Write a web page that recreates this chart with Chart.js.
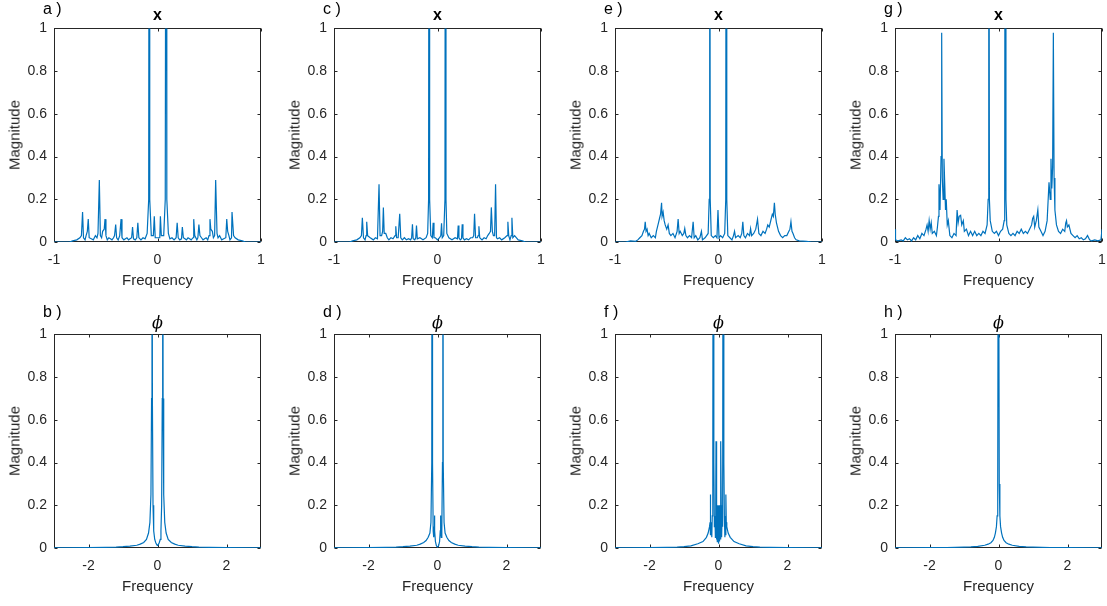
<!DOCTYPE html>
<html>
<head>
<meta charset="utf-8">
<script src="https://cdn.jsdelivr.net/npm/chart.js@4/dist/chart.umd.min.js"></script>
<style>
  html, body { margin: 0; padding: 0; background: #ffffff; }
  #fig { position: relative; width: 1107px; height: 606px; overflow: hidden; background: #fff;
         font-family: "Liberation Sans", Arial, Helvetica, sans-serif; color: #262626; }
  .cv { position: absolute; }
  .txt { position: absolute; white-space: nowrap; line-height: 1; }
  .lbl { font-size: 16px; color: #000; }
  .ttl { font-size: 16px; font-weight: bold; color: #000; transform: translateX(-50%); }
  .phi { font-size: 16px; font-style: italic; font-family: "DejaVu Serif", "Liberation Serif", serif; color: #000; transform: translateX(-50%); }
  .xl { font-size: 15px; transform: translateX(-50%); }
  .yl { font-size: 15px; transform: translate(-50%, -50%) rotate(-90deg); }
</style>
</head>
<body>
<div id="fig"></div>
<script>
// ---------- data ----------
const topXTicks = [-1, 0, 1];
const bottomXTicks = [-2, 0, 2];
const yTicks = [0, 0.2, 0.4, 0.6, 0.8, 1];

// panel a) x
const aFreq = [-1,-0.85,-0.82,-0.78,-0.75,-0.735,-0.724,-0.715,-0.7,-0.69,-0.678,-0.669,-0.66,-0.64,-0.62,-0.6,-0.585,-0.575,-0.562,-0.552,-0.54,-0.53,-0.515,-0.507,-0.498,-0.485,-0.47,-0.455,-0.44,-0.425,-0.415,-0.404,-0.395,-0.38,-0.365,-0.352,-0.343,-0.325,-0.31,-0.295,-0.28,-0.265,-0.25,-0.241,-0.232,-0.215,-0.2,-0.19,-0.18,-0.16,-0.14,-0.12,-0.1,-0.085,-0.08,-0.075,-0.06,-0.04,-0.031,-0.022,-0.005,
  0.005,0.022,0.028,0.037,0.06,0.075,0.083,0.09,0.105,0.12,0.14,0.16,0.18,0.19,0.2,0.215,0.232,0.24,0.25,0.265,0.28,0.295,0.31,0.325,0.343,0.35,0.36,0.38,0.39,0.4,0.41,0.425,0.44,0.455,0.47,0.485,0.498,0.507,0.515,0.53,0.54,0.552,0.562,0.575,0.585,0.6,0.62,0.64,0.66,0.669,0.678,0.69,0.7,0.715,0.72,0.735,0.75,0.78,0.82,0.85,1];
const aMag = [0,0,0.005,0.01,0.02,0.03,0.14,0.02,0.01,0.03,0.05,0.107,0.02,0.015,0.01,0.03,0.02,0.04,0.29,0.03,0.02,0.05,0.06,0.107,0.03,0.01,0.02,0.015,0.01,0.02,0.03,0.082,0.02,0.01,0.03,0.107,0.02,0.01,0.015,0.02,0.01,0.015,0.02,0.07,0.015,0.01,0.02,0.09,0.02,0.01,0.02,0.015,0.04,0.2,3,0.2,0.03,0.03,0.12,0.02,0.02,
  0.02,0.02,0.12,0.03,0.03,0.2,3,0.2,0.04,0.015,0.02,0.01,0.02,0.09,0.02,0.01,0.015,0.07,0.02,0.015,0.01,0.02,0.015,0.01,0.02,0.107,0.03,0.01,0.02,0.082,0.03,0.02,0.01,0.015,0.02,0.01,0.03,0.107,0.06,0.05,0.02,0.03,0.29,0.04,0.02,0.03,0.01,0.015,0.02,0.107,0.05,0.03,0.01,0.02,0.14,0.03,0.02,0.01,0.005,0,0];

// panel c) x
const cFreq = [-1,-0.85,-0.82,-0.78,-0.75,-0.735,-0.726,-0.715,-0.7,-0.69,-0.684,-0.675,-0.65,-0.62,-0.6,-0.58,-0.565,-0.555,-0.54,-0.53,-0.523,-0.515,-0.5,-0.485,-0.47,-0.45,-0.43,-0.41,-0.403,-0.395,-0.38,-0.365,-0.355,-0.34,-0.32,-0.3,-0.28,-0.26,-0.25,-0.242,-0.235,-0.22,-0.21,-0.203,-0.195,-0.17,-0.14,-0.11,-0.095,-0.086,-0.081,-0.076,-0.065,-0.05,-0.042,-0.034,-0.02,0,
  0.02,0.032,0.039,0.046,0.06,0.072,0.077,0.082,0.09,0.11,0.14,0.17,0.193,0.2,0.207,0.22,0.232,0.239,0.246,0.26,0.28,0.3,0.32,0.34,0.35,0.358,0.368,0.385,0.393,0.4,0.408,0.43,0.45,0.47,0.485,0.5,0.512,0.52,0.53,0.54,0.552,0.561,0.57,0.58,0.6,0.62,0.65,0.672,0.68,0.688,0.7,0.712,0.719,0.728,0.745,0.78,0.82,0.85,1];
const cMag = [0,0,0.005,0.01,0.02,0.03,0.113,0.02,0.01,0.03,0.095,0.03,0.02,0.01,0.02,0.015,0.27,0.03,0.03,0.05,0.162,0.04,0.04,0.02,0.01,0.02,0.015,0.03,0.074,0.02,0.02,0.132,0.02,0.01,0.02,0.01,0.015,0.01,0.02,0.083,0.015,0.01,0.02,0.077,0.015,0.02,0.01,0.02,0.04,0.2,3,0.2,0.03,0.02,0.09,0.02,0.02,0.01,
  0.02,0.03,0.088,0.02,0.03,0.2,3,0.2,0.04,0.02,0.01,0.02,0.015,0.077,0.02,0.01,0.015,0.083,0.02,0.01,0.015,0.01,0.02,0.02,0.03,0.132,0.02,0.02,0.03,0.074,0.02,0.01,0.02,0.015,0.03,0.04,0.05,0.162,0.05,0.03,0.03,0.27,0.02,0.015,0.02,0.01,0.02,0.03,0.095,0.03,0.01,0.03,0.113,0.02,0.03,0.01,0.005,0,0];

// panel e) x
const eFreq = [-1,-0.9,-0.85,-0.8,-0.78,-0.76,-0.74,-0.725,-0.715,-0.708,-0.7,-0.69,-0.68,-0.67,-0.65,-0.63,-0.61,-0.6,-0.59,-0.58,-0.57,-0.56,-0.55,-0.545,-0.535,-0.525,-0.515,-0.5,-0.487,-0.475,-0.46,-0.44,-0.42,-0.4,-0.39,-0.38,-0.37,-0.35,-0.335,-0.326,-0.315,-0.3,-0.28,-0.26,-0.245,-0.235,-0.22,-0.2,-0.18,-0.165,-0.155,-0.13,-0.1,-0.09,-0.085,-0.08,-0.07,-0.05,-0.03,-0.015,-0.005,0.005,0.02,0.04,0.06,0.07,0.075,0.08,0.09,0.11,0.13,0.145,0.155,0.165,0.19,0.21,0.225,0.235,0.245,0.26,0.28,0.3,0.31,0.32,0.34,0.36,0.377,0.39,0.41,0.43,0.45,0.465,0.476,0.49,0.5,0.51,0.52,0.53,0.54,0.548,0.56,0.57,0.58,0.6,0.62,0.64,0.66,0.68,0.69,0.7,0.71,0.72,0.735,0.75,0.78,0.85,0.9,1];
const eMag = [0,0,0.005,0.003,0.01,0.02,0.03,0.05,0.06,0.095,0.05,0.06,0.03,0.04,0.02,0.03,0.02,0.05,0.07,0.09,0.11,0.13,0.184,0.12,0.14,0.1,0.08,0.06,0.08,0.04,0.03,0.04,0.02,0.05,0.107,0.04,0.05,0.03,0.04,0.063,0.03,0.02,0.03,0.02,0.095,0.02,0.03,0.01,0.02,0.05,0.01,0.02,0.04,0.2,3,0.2,0.03,0.02,0.03,0.02,0.15,0.02,0.03,0.02,0.04,0.2,3,0.2,0.03,0.02,0.01,0.03,0.05,0.02,0.03,0.02,0.04,0.095,0.03,0.02,0.04,0.03,0.063,0.03,0.04,0.06,0.107,0.04,0.03,0.05,0.04,0.06,0.08,0.07,0.09,0.11,0.13,0.12,0.184,0.13,0.09,0.07,0.05,0.03,0.02,0.03,0.03,0.05,0.06,0.095,0.05,0.04,0.02,0.01,0.005,0.003,0,0];

// panel g) x
const gFreq = [-1,-0.995,-0.97,-0.94,-0.92,-0.9,-0.88,-0.86,-0.84,-0.82,-0.8,-0.78,-0.76,-0.74,-0.72,-0.7,-0.69,-0.68,-0.67,-0.66,-0.65,-0.64,-0.62,-0.6,-0.59,-0.58,-0.575,-0.565,-0.555,-0.549,-0.543,-0.535,-0.527,-0.52,-0.512,-0.505,-0.495,-0.485,-0.47,-0.45,-0.43,-0.41,-0.4,-0.39,-0.38,-0.366,-0.355,-0.34,-0.33,-0.31,-0.29,-0.27,-0.25,-0.23,-0.21,-0.19,-0.17,-0.15,-0.13,-0.11,-0.1,-0.094,-0.088,-0.08,-0.06,-0.04,-0.02,0,0.02,0.04,0.055,0.06,0.065,0.072,0.08,0.1,0.12,0.14,0.16,0.18,0.2,0.22,0.24,0.26,0.28,0.3,0.32,0.33,0.34,0.35,0.365,0.38,0.39,0.41,0.43,0.45,0.47,0.48,0.488,0.5,0.507,0.515,0.523,0.53,0.537,0.545,0.56,0.58,0.6,0.62,0.64,0.65,0.657,0.665,0.68,0.7,0.72,0.74,0.76,0.78,0.8,0.82,0.84,0.86,0.88,0.9,0.93,0.96,0.99,1];
const gMag = [0.06,0.01,0.005,0.01,0.005,0.02,0.01,0.015,0.005,0.02,0.01,0.03,0.015,0.04,0.03,0.06,0.08,0.05,0.1,0.06,0.09,0.04,0.05,0.03,0.07,0.12,0.27,0.15,0.4,0.98,0.3,0.2,0.39,0.28,0.15,0.2,0.08,0.1,0.03,0.02,0.04,0.03,0.15,0.09,0.12,0.125,0.08,0.1,0.05,0.06,0.03,0.05,0.03,0.05,0.03,0.04,0.03,0.05,0.04,0.08,0.2,3,0.2,0.1,0.05,0.04,0.05,0.03,0.05,0.06,0.1,0.2,3,0.2,0.08,0.04,0.03,0.04,0.03,0.05,0.04,0.06,0.04,0.05,0.04,0.06,0.08,0.11,0.12,0.07,0.1,0.15,0.07,0.05,0.03,0.05,0.1,0.2,0.28,0.2,0.39,0.25,0.35,0.98,0.3,0.15,0.08,0.05,0.04,0.06,0.05,0.09,0.1,0.07,0.08,0.04,0.03,0.02,0.03,0.015,0.02,0.01,0.015,0.03,0.01,0.005,0.01,0.005,0.01,0.06];

// panel b) phi
const bFreq = [-3,-2,-1.5,-1.2,-1,-0.8,-0.6,-0.5,-0.4,-0.32,-0.26,-0.22,-0.19,-0.172,-0.16,-0.148,-0.13,-0.11,-0.08,-0.05,-0.02,0,0.02,0.05,0.08,0.1,0.12,0.138,0.15,0.162,0.18,0.21,0.25,0.31,0.4,0.5,0.6,0.8,1,1.2,1.5,2,3];
const bMag = [0.001,0.002,0.003,0.004,0.006,0.009,0.013,0.018,0.026,0.04,0.07,0.12,0.25,0.7,3,0.7,0.2,0.08,0.04,0.025,0.015,0.012,0.015,0.025,0.04,0.08,0.2,0.7,3,0.7,0.25,0.12,0.07,0.04,0.026,0.018,0.013,0.009,0.006,0.004,0.003,0.002,0.001];

// panel d) phi
const dFreq = [-3,-2,-1.5,-1.2,-1,-0.8,-0.6,-0.5,-0.4,-0.33,-0.27,-0.22,-0.19,-0.166,-0.155,-0.144,-0.125,-0.11,-0.095,-0.087,-0.08,-0.06,-0.03,0,0.03,0.06,0.08,0.087,0.095,0.11,0.125,0.144,0.155,0.166,0.19,0.22,0.27,0.33,0.4,0.5,0.6,0.8,1,1.2,1.5,2,3];
const dMag = [0.001,0.002,0.003,0.004,0.006,0.009,0.013,0.018,0.026,0.035,0.05,0.07,0.12,0.4,3,0.4,0.08,0.05,0.1,0.152,0.08,0.03,0.01,0.005,0.01,0.03,0.08,0.152,0.1,0.05,0.08,0.4,3,0.4,0.12,0.07,0.05,0.035,0.026,0.018,0.013,0.009,0.006,0.004,0.003,0.002,0.001];

// panel f) phi
const fFreq = [-3,-2,-1.5,-1.2,-1,-0.8,-0.6,-0.45,-0.35,-0.3,-0.26,-0.245,-0.236,-0.228,-0.21,-0.195,-0.18,-0.165,-0.15,-0.135,-0.12,-0.105,-0.09,-0.08,-0.072,-0.065,-0.055,-0.045,-0.035,-0.025,-0.018,-0.01,0,0.008,0.015,0.025,0.035,0.045,0.055,0.065,0.072,0.08,0.09,0.105,0.12,0.14,0.155,0.17,0.185,0.2,0.21,0.217,0.226,0.24,0.28,0.34,0.45,0.6,0.8,1,1.2,1.5,2,3];
const fMag = [0.001,0.002,0.003,0.004,0.006,0.01,0.02,0.03,0.05,0.07,0.1,0.12,0.25,0.06,0.12,0.05,0.15,0.4,3,0.4,0.1,0.15,0.05,0.2,0.5,0.15,0.04,0.12,0.03,0.1,0.2,0.08,0.02,0.09,0.2,0.07,0.03,0.12,0.04,0.15,0.5,0.2,0.05,0.15,0.1,3,0.4,0.15,0.05,0.12,0.06,0.25,0.12,0.1,0.07,0.05,0.03,0.02,0.01,0.006,0.004,0.003,0.002,0.001];

// panel h) phi
const hFreq = [-3,-2,-1.5,-1,-0.8,-0.6,-0.4,-0.3,-0.22,-0.16,-0.12,-0.09,-0.06,-0.04,-0.022,-0.01,0,0.01,0.022,0.04,0.06,0.09,0.12,0.16,0.22,0.3,0.4,0.6,0.8,1,1.5,2,3];
const hMag = [0.001,0.0015,0.002,0.004,0.005,0.008,0.013,0.018,0.025,0.035,0.05,0.07,0.1,0.15,0.3,1.5,3,1.5,0.3,0.15,0.1,0.07,0.05,0.035,0.025,0.018,0.013,0.008,0.005,0.004,0.002,0.0015,0.001];

const panelLabels = ['a )','b )','c )','d )','e )','f )','g )','h )'];
const rowTitles = ['x', 'ϕ'];
const xAxisTitle = 'Frequency';
const yAxisTitle = 'Magnitude';

// ---------- layout ----------
const colLeft = [54, 334, 615, 895];
const plotW = 207;
const rowTop = [28, 334];
const plotH = 213;
const yAxisW = 54, xAxisH = 50, canvasTopOff = 16, padRight = 14;

const panels = [
  {row:0,col:0,f:aFreq,m:aMag,lbl:0},
  {row:1,col:0,f:bFreq,m:bMag,lbl:1},
  {row:0,col:1,f:cFreq,m:cMag,lbl:2},
  {row:1,col:1,f:dFreq,m:dMag,lbl:3},
  {row:0,col:2,f:eFreq,m:eMag,lbl:4},
  {row:1,col:2,f:fFreq,m:fMag,lbl:5},
  {row:0,col:3,f:gFreq,m:gMag,lbl:6},
  {row:1,col:3,f:hFreq,m:hMag,lbl:7},
];

Chart.defaults.font.family = '"Liberation Sans", Arial, Helvetica, sans-serif';
Chart.defaults.font.size = 14;
Chart.defaults.color = '#262626';

const boxPlugin = {
  id: 'mbox',
  beforeDatasetsDraw(chart) {
    const {ctx, chartArea: a, scales: {x, y}} = chart;
    const L = Math.round(a.left) + 0.5, R = Math.round(a.right) - 0.5;
    const T = Math.round(a.top) + 0.5, B = Math.round(a.bottom) - 0.5;
    ctx.save();
    ctx.strokeStyle = '#262626';
    ctx.lineWidth = 1;
    ctx.strokeRect(L, T, R - L, B - T);
    ctx.beginPath();
    const tl = 3;
    x.ticks.forEach(t => {
      const px = Math.round(x.getPixelForValue(t.value)) + 0.5;
      ctx.moveTo(px, B); ctx.lineTo(px, B - tl);
      ctx.moveTo(px, T); ctx.lineTo(px, T + tl);
    });
    y.ticks.forEach(t => {
      const py = Math.round(y.getPixelForValue(t.value)) + 0.5;
      ctx.moveTo(L, py); ctx.lineTo(L + tl, py);
      ctx.moveTo(R, py); ctx.lineTo(R - tl, py);
    });
    ctx.stroke();
    ctx.restore();
  }
};

const fig = document.getElementById('fig');

function addText(cls, text, left, top) {
  const d = document.createElement('div');
  d.className = 'txt ' + cls;
  d.textContent = text;
  d.style.left = left + 'px';
  d.style.top = top + 'px';
  fig.appendChild(d);
  return d;
}

panels.forEach(p => {
  const L = colLeft[p.col], T = rowTop[p.row];
  const cw = yAxisW + plotW + padRight;
  const ch = canvasTopOff + plotH + xAxisH;
  const cv = document.createElement('canvas');
  cv.className = 'cv';
  cv.width = cw; cv.height = ch;
  cv.style.left = (L - yAxisW) + 'px';
  cv.style.top = (T - canvasTopOff) + 'px';
  cv.style.width = cw + 'px'; cv.style.height = ch + 'px';
  fig.appendChild(cv);

  const pts = p.f.map((v, i) => ({x: v, y: p.m[i]}));
  const xt = p.row === 0 ? topXTicks : bottomXTicks;
  const xr = p.row === 0 ? [-1, 1] : [-3, 3];

  const chart = new Chart(cv.getContext('2d'), {
    type: 'line',
    data: { datasets: [{ data: pts, borderColor: '#0072BD', borderWidth: 1.2, pointRadius: 0, tension: 0, fill: false }] },
    options: {
      responsive: false, animation: false, devicePixelRatio: 1,
      layout: { padding: { top: 0, right: padRight, left: 0, bottom: 0 } },
      plugins: { legend: { display: false }, tooltip: { enabled: false }, title: { display: false } },
      events: [],
      scales: {
        x: {
          type: 'linear', min: xr[0], max: xr[1],
          grid: { display: false, drawTicks: false },
          border: { display: false },
          ticks: { padding: 10, maxRotation: 0, autoSkip: false, callback: v => String(v) },
          afterBuildTicks: s => { s.ticks = xt.map(v => ({value: v})); },
          afterFit: s => { s.height = xAxisH; }
        },
        y: {
          type: 'linear', min: 0, max: 1,
          grid: { display: false, drawTicks: false },
          border: { display: false },
          ticks: { padding: 7, autoSkip: false, callback: v => String(v) },
          afterBuildTicks: s => { s.ticks = yTicks.map(v => ({value: v})); },
          afterFit: s => { s.width = yAxisW; }
        }
      }
    },
    plugins: [boxPlugin]
  });
  // align the plotting box exactly with the reference position
  const dy = chart.chartArea.top - canvasTopOff;
  const dx = chart.chartArea.left - yAxisW;
  cv.style.top = (T - canvasTopOff - dy) + 'px';
  cv.style.left = (L - yAxisW - dx) + 'px';

  // texts
  addText('lbl', panelLabels[p.lbl], L - 11, p.row === 0 ? T - 27 : T - 30);
  if (p.row === 0) addText('ttl', rowTitles[0], L + plotW / 2, T - 21);
  else addText('phi', rowTitles[1], L + plotW / 2, T - 19);
  addText('xl', xAxisTitle, L + plotW / 2, T + plotH + 31);
  addText('yl', yAxisTitle, L - 40, T + plotH / 2);
});
</script>
</body>
</html>
